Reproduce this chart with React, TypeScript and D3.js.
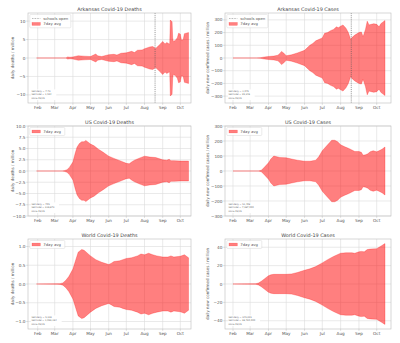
import React from "react";
import * as d3 from "d3";

// ---------- data ----------
const monthLabels = ["Feb", "Mar", "Apr", "May", "Jun", "Jul", "Aug", "Sep", "Oct"];
const monthDates = ["2020-02-01", "2020-03-01", "2020-04-01", "2020-05-01", "2020-06-01", "2020-07-01", "2020-08-01", "2020-09-01", "2020-10-01"];
const schoolsOpenDate = "2020-08-19";

const arDeathsDates = ["2020-01-30", "2020-03-20", "2020-03-23", "2020-03-27", "2020-04-01", "2020-04-10", "2020-04-20", "2020-05-01", "2020-05-10", "2020-05-13", "2020-05-20", "2020-06-01", "2020-06-10", "2020-06-15", "2020-06-22", "2020-07-01", "2020-07-10", "2020-07-15", "2020-07-20", "2020-07-28", "2020-08-01", "2020-08-10", "2020-08-15", "2020-08-20", "2020-08-24", "2020-08-28", "2020-09-01", "2020-09-05", "2020-09-08", "2020-09-12", "2020-09-13", "2020-09-14", "2020-09-17", "2020-09-18", "2020-09-19", "2020-09-22", "2020-09-26", "2020-09-28", "2020-10-01", "2020-10-03", "2020-10-06", "2020-10-08", "2020-10-15"];
const arDeathsValues = [0, 0, 0.3, 0.2, 0.3, 0.6, 0.5, 0.4, 1.1, 0.6, 0.4, 0.9, 1.0, 0.8, 1.3, 1.4, 1.8, 1.5, 2.1, 2.2, 2.5, 3.0, 3.1, 2.6, 3.2, 3.8, 4.5, 3.8, 4.2, 3.8, 3.9, 10.3, 9.8, 5.5, 4.5, 4.7, 5.5, 6.7, 6.5, 4.8, 5.0, 6.6, 6.9];

const arCasesDates = ["2020-02-01", "2020-03-12", "2020-03-18", "2020-03-25", "2020-04-01", "2020-04-10", "2020-04-17", "2020-04-21", "2020-04-23", "2020-04-27", "2020-05-01", "2020-05-10", "2020-05-20", "2020-06-01", "2020-06-10", "2020-06-15", "2020-06-20", "2020-07-01", "2020-07-05", "2020-07-10", "2020-07-15", "2020-07-20", "2020-07-25", "2020-07-28", "2020-08-01", "2020-08-05", "2020-08-10", "2020-08-14", "2020-08-18", "2020-08-21", "2020-08-25", "2020-09-01", "2020-09-05", "2020-09-08", "2020-09-12", "2020-09-15", "2020-09-18", "2020-09-22", "2020-09-26", "2020-10-01", "2020-10-05", "2020-10-08", "2020-10-15"];
const arCasesValues = [0, 0, 2, 8, 12, 15, 22, 40, 52, 38, 18, 25, 40, 60, 100, 115, 135, 158, 195, 200, 215, 225, 245, 238, 250, 260, 235, 200, 145, 165, 180, 200, 205, 168, 225, 290, 260, 265, 270, 265, 245, 270, 295];

const usDeathsDates = ["2020-01-30", "2020-03-14", "2020-03-18", "2020-03-22", "2020-03-26", "2020-04-01", "2020-04-05", "2020-04-08", "2020-04-12", "2020-04-16", "2020-04-20", "2020-04-23", "2020-04-27", "2020-05-01", "2020-05-07", "2020-05-15", "2020-05-22", "2020-06-01", "2020-06-10", "2020-06-20", "2020-07-01", "2020-07-06", "2020-07-10", "2020-07-15", "2020-07-22", "2020-08-01", "2020-08-05", "2020-08-10", "2020-08-20", "2020-09-01", "2020-09-08", "2020-09-12", "2020-09-15", "2020-09-20", "2020-10-01", "2020-10-15"];
const usDeathsValues = [0, 0, 0.1, 0.3, 0.8, 2.0, 4.0, 5.3, 6.1, 6.5, 6.5, 6.8, 6.4, 6.0, 5.6, 4.8, 4.2, 3.3, 2.8, 2.3, 1.7, 1.6, 2.0, 2.4, 2.8, 3.3, 3.2, 3.1, 3.0, 2.5, 2.4, 2.6, 2.3, 2.3, 2.2, 2.2];

const usCasesDates = ["2020-02-01", "2020-03-15", "2020-03-20", "2020-03-25", "2020-04-01", "2020-04-05", "2020-04-10", "2020-04-15", "2020-04-20", "2020-05-01", "2020-05-10", "2020-05-20", "2020-06-01", "2020-06-10", "2020-06-20", "2020-06-25", "2020-07-01", "2020-07-10", "2020-07-17", "2020-07-22", "2020-07-27", "2020-08-01", "2020-08-07", "2020-08-15", "2020-08-25", "2020-09-01", "2020-09-05", "2020-09-08", "2020-09-12", "2020-09-16", "2020-09-20", "2020-09-25", "2020-10-01", "2020-10-05", "2020-10-10", "2020-10-15"];
const usCasesValues = [0, 0, 5, 25, 55, 80, 100, 95, 90, 88, 80, 72, 65, 65, 72, 95, 135, 175, 205, 205, 195, 175, 163, 150, 130, 130, 125, 105, 108, 115, 128, 135, 128, 135, 145, 160];

const worldDeathsDates = ["2020-01-30", "2020-03-05", "2020-03-10", "2020-03-15", "2020-03-20", "2020-03-25", "2020-04-01", "2020-04-05", "2020-04-10", "2020-04-16", "2020-04-20", "2020-05-01", "2020-05-10", "2020-05-20", "2020-06-01", "2020-06-05", "2020-06-10", "2020-06-20", "2020-06-25", "2020-07-01", "2020-07-10", "2020-07-20", "2020-07-26", "2020-08-01", "2020-08-08", "2020-08-15", "2020-08-22", "2020-09-01", "2020-09-10", "2020-09-15", "2020-09-20", "2020-10-01", "2020-10-08", "2020-10-15"];
const worldDeathsValues = [0.002, 0.005, 0.01, 0.03, 0.1, 0.2, 0.4, 0.6, 0.85, 0.92, 0.9, 0.75, 0.65, 0.58, 0.52, 0.55, 0.6, 0.62, 0.65, 0.68, 0.7, 0.75, 0.8, 0.78, 0.82, 0.78, 0.75, 0.72, 0.72, 0.75, 0.72, 0.74, 0.78, 0.7];

const worldCasesDates = ["2020-02-01", "2020-03-05", "2020-03-10", "2020-03-15", "2020-03-20", "2020-03-25", "2020-04-01", "2020-04-05", "2020-04-10", "2020-04-20", "2020-05-01", "2020-05-10", "2020-05-20", "2020-06-01", "2020-06-10", "2020-06-20", "2020-07-01", "2020-07-10", "2020-07-20", "2020-08-01", "2020-08-10", "2020-08-20", "2020-08-25", "2020-09-01", "2020-09-05", "2020-09-10", "2020-09-15", "2020-09-20", "2020-10-01", "2020-10-05", "2020-10-10", "2020-10-15"];
const worldCasesValues = [0.1, 0.2, 0.3, 1, 3, 5.5, 9, 10, 10.5, 10.5, 10.5, 11, 12.5, 15, 16.5, 19, 23, 26.5, 30, 33.5, 34, 34, 33.5, 35, 35.5, 35, 37.5, 38, 38.5, 40, 42, 44];

const arDeathsTicks = [-10, -5, 0, 5, 10];
const arCasesTicks = [-300, -200, -100, 0, 100, 200, 300];
const usDeathsTicks = [-10, -7.5, -5, -2.5, 0, 2.5, 5, 7.5, 10];
const usCasesTicks = [-300, -200, -100, 0, 100, 200, 300];
const worldDeathsTicks = [-1, -0.5, 0, 0.5, 1];
const worldCasesTicks = [-40, -20, 0, 20, 40];

const arDeathsNotes = ["last daily = 7.73", "last total = 1,554", "since 03/15"];
const arCasesNotes = ["last daily = 1,079", "last total = 95,248", "since 03/15"];
const usDeathsNotes = ["last daily = 705", "last total = 216,872", "since 03/15"];
const usCasesNotes = ["last daily = 51,408", "last total = 7,987,000", "since 03/15"];
const worldDeathsNotes = ["last daily = 5,233", "last total = 1,093,164", "since 03/15"];
const worldCasesNotes = ["last daily = 345,355", "last total = 38,720,000", "since 03/15"];

// ---------- layout ----------
const FONT = "DejaVu Sans, sans-serif";
const parse = d3.utcParse("%Y-%m-%d");
const cols = [
  { bx0: 28, bx1: 191, r0: 37.7, r1: 180.3, ylx: 12.3 },
  { bx0: 225, bx1: 391, r0: 233, r1: 376.7, ylx: 207 },
];
const rowTops = [13, 126, 239];
const PH = 90;

type Panel = {
  col: number; row: number; title: string; ylabel: string;
  dates: string[]; values: number[]; lim: number; ticks: number[];
  fmt: (v: number) => string; schools: boolean; notes: string[];
};

const fInt = d3.format("d");
const f1 = d3.format(".1f");

const panels: Panel[] = [
  { col: 0, row: 0, title: "Arkansas Covid-19 Deaths", ylabel: "daily deaths / million", dates: arDeathsDates, values: arDeathsValues, lim: 12.2, ticks: arDeathsTicks, fmt: fInt, schools: true, notes: arDeathsNotes },
  { col: 1, row: 0, title: "Arkansas Covid-19 Cases", ylabel: "daily new confirmed cases / million", dates: arCasesDates, values: arCasesValues, lim: 354, ticks: arCasesTicks, fmt: fInt, schools: true, notes: arCasesNotes },
  { col: 0, row: 1, title: "US Covid-19 Deaths", ylabel: "daily deaths / million", dates: usDeathsDates, values: usDeathsValues, lim: 10, ticks: usDeathsTicks, fmt: f1, schools: false, notes: usDeathsNotes },
  { col: 1, row: 1, title: "US Covid-19 Cases", ylabel: "daily new confirmed cases / million", dates: usCasesDates, values: usCasesValues, lim: 300, ticks: usCasesTicks, fmt: fInt, schools: false, notes: usCasesNotes },
  { col: 0, row: 2, title: "World Covid-19 Deaths", ylabel: "daily deaths / million", dates: worldDeathsDates, values: worldDeathsValues, lim: 1.2, ticks: worldDeathsTicks, fmt: f1, schools: false, notes: worldDeathsNotes },
  { col: 1, row: 2, title: "World Covid-19 Cases", ylabel: "daily new confirmed cases / million", dates: worldCasesDates, values: worldCasesValues, lim: 49, ticks: worldCasesTicks, fmt: fInt, schools: false, notes: worldCasesNotes },
];

function PanelView({ p }: { p: Panel }) {
  const c = cols[p.col];
  const top = rowTops[p.row];
  const bottom = top + PH;
  const x = d3.scaleUtc().domain([parse(monthDates[0])!, parse(monthDates[monthDates.length - 1])!]).range([c.r0, c.r1]);
  const y = d3.scaleLinear().domain([-p.lim, p.lim]).range([bottom, top]);
  const data = p.dates.map((d, i) => ({ date: parse(d)!, v: p.values[i] }));
  const area = d3.area<{ date: Date; v: number }>()
    .x((d) => x(d.date))
    .y0((d) => y(-d.v))
    .y1((d) => y(d.v));
  const clipId = `clip-${p.col}-${p.row}`;
  const gridColor = "#dcdcdc";
  const textColor = "#555";
  const legendRows = p.schools ? 2 : 1;
  const lx = c.bx0 + 1.8;
  const ly = top + 1.5;
  const lw = p.schools ? 41 : 35;
  const lh = legendRows === 2 ? 13.3 : 8;
  const noteFs = 2.3;
  const noteW = d3.max(p.notes, (s) => s.length)! * noteFs * 0.58 + 1.5;
  return (
    <g>
      <defs>
        <clipPath id={clipId}>
          <rect x={c.bx0} y={top} width={c.bx1 - c.bx0} height={PH} />
        </clipPath>
      </defs>
      {/* grid */}
      {monthDates.map((d) => (
        <line key={"gx" + d} x1={x(parse(d)!)} x2={x(parse(d)!)} y1={top} y2={bottom} stroke={gridColor} strokeWidth={0.6} />
      ))}
      {p.ticks.map((t) => (
        <line key={"gy" + t} x1={c.bx0} x2={c.bx1} y1={y(t)} y2={y(t)} stroke={gridColor} strokeWidth={0.6} />
      ))}
      {/* data */}
      <g clipPath={`url(#${clipId})`}>
        <path d={area(data)!} fill="#ff0000" fillOpacity={0.5} stroke="#ff0000" strokeOpacity={0.5} strokeWidth={0.5} />
        {p.schools && (
          <line x1={x(parse(schoolsOpenDate)!)} x2={x(parse(schoolsOpenDate)!)} y1={top} y2={bottom} stroke="#555" strokeWidth={0.6} strokeDasharray="1,0.9" />
        )}
      </g>
      {/* frame */}
      <rect x={c.bx0} y={top} width={c.bx1 - c.bx0} height={PH} fill="none" stroke="#bdbdbd" strokeWidth={0.6} />
      {/* x ticks */}
      {monthDates.map((d, i) => (
        <g key={"xt" + d}>
          <line x1={x(parse(d)!)} x2={x(parse(d)!)} y1={bottom} y2={bottom + 1.8} stroke="#bdbdbd" strokeWidth={0.5} />
          <text x={x(parse(d)!)} y={bottom + 6.3} fontSize={4.2} fill={textColor} textAnchor="middle" fontFamily={FONT}>{monthLabels[i]}</text>
        </g>
      ))}
      {/* y ticks */}
      {p.ticks.map((t) => (
        <g key={"yt" + t}>
          <line x1={c.bx0 - 1.8} x2={c.bx0} y1={y(t)} y2={y(t)} stroke="#bdbdbd" strokeWidth={0.5} />
          <text x={c.bx0 - 2.6} y={y(t) + 1.5} fontSize={4.2} fill={textColor} textAnchor="end" fontFamily={FONT}>{p.fmt(t)}</text>
        </g>
      ))}
      {/* title */}
      <text x={(c.bx0 + c.bx1) / 2} y={top - 1.8} fontSize={4.9} fill="#444" textAnchor="middle" fontFamily={FONT}>{p.title}</text>
      {/* y label */}
      <text transform={`translate(${c.ylx},${(top + bottom) / 2}) rotate(-90)`} fontSize={4.1} fill={textColor} textAnchor="middle" dominantBaseline="central" fontFamily={FONT}>{p.ylabel}</text>
      {/* legend */}
      <rect x={lx} y={ly} width={lw} height={lh} rx={1} fill="white" fillOpacity={0.85} stroke="#d0d0d0" strokeWidth={0.4} />
      {p.schools && (
        <g>
          <line x1={lx + 2.2} x2={lx + 10.5} y1={ly + 4} y2={ly + 4} stroke="#888" strokeWidth={0.7} strokeDasharray="0.8,0.8" />
          <text x={lx + 13.5} y={ly + 5.3} fontSize={3.8} fill={textColor} fontFamily={FONT}>schools open</text>
        </g>
      )}
      {(() => {
        const cy = ly + (p.schools ? 9.4 : 4);
        return (
          <g>
            <rect x={lx + 2.2} y={cy - 1.4} width={8.3} height={2.8} fill="#ff0000" fillOpacity={0.5} stroke="#ff0000" strokeOpacity={0.5} strokeWidth={0.4} />
            <text x={lx + 13.5} y={cy + 1.3} fontSize={3.8} fill={textColor} fontFamily={FONT}>7day avg</text>
          </g>
        );
      })()}
      {/* annotation */}
      <rect x={c.bx0 + 2.8} y={bottom - 13.6} width={noteW} height={10.6} fill="white" />
      {p.notes.map((s, i) => (
        <text key={"n" + i} x={c.bx0 + 3.5} y={bottom - 11.1 + i * 3.3} fontSize={noteFs} fill="#666" fontFamily={FONT}>{s}</text>
      ))}
    </g>
  );
}

export default function App() {
  return (
    <svg width={400} height={343} viewBox="0 0 400 343" style={{ display: "block", position: "absolute", left: 0, top: 0, background: "white" }}>
      <rect width={400} height={343} fill="white" />
      {panels.map((p) => (
        <PanelView key={p.title} p={p} />
      ))}
    </svg>
  );
}
